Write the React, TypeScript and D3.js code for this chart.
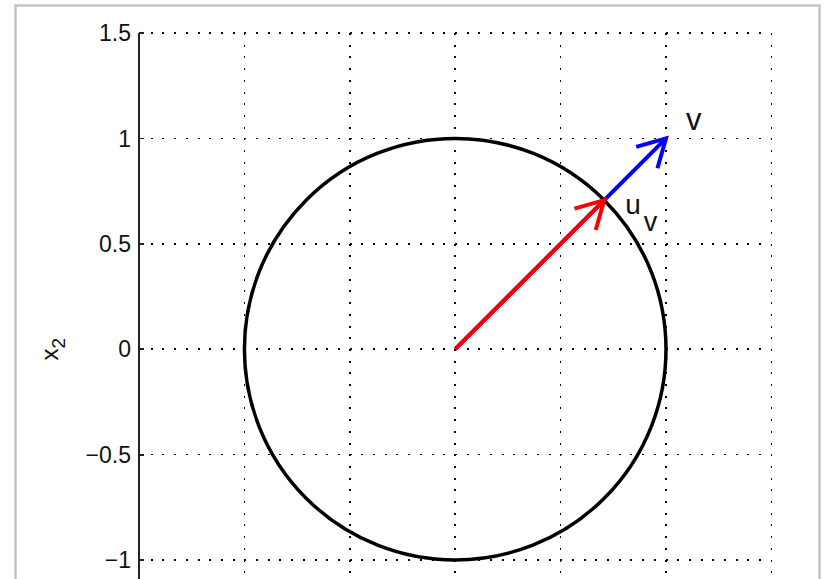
import { useEffect } from "react";
import * as d3 from "d3";

// axis ranges and ticks
const xDomain = [-1.5, 1.5];
const yDomain = [-1.5, 1.5];
const gridTicks = [-1.5, -1, -0.5, 0, 0.5, 1, 1.5];
const yTicks = [-1.5, -1, -0.5, 0, 0.5, 1, 1.5];
const yTickLabels = [-1, -0.5, 0, 0.5, 1, 1.5];

// vectors
const vVector = [1, 1];
const uVector = [0.7071, 0.7071];
const circleRadius = 1;

const W = 825;
const H = 579;
const plot = { left: 139, right: 772, top: 33 };
const unitPx = 210.8;

const fontFamily = "Arial, 'Liberation Sans', Helvetica, sans-serif";

const Arrow = ({
  x,
  y,
  to,
  color,
}: {
  x: d3.ScaleLinear<number, number>;
  y: d3.ScaleLinear<number, number>;
  to: number[];
  color: string;
}) => {
  const x0 = x(0);
  const y0 = y(0);
  const x1 = x(to[0]);
  const y1 = y(to[1]);
  const ang = Math.atan2(y0 - y1, x0 - x1);
  const len = 31;
  const spread = (29 * Math.PI) / 180;
  const w1 = [x1 + len * Math.cos(ang + spread), y1 + len * Math.sin(ang + spread)];
  const w2 = [x1 + len * Math.cos(ang - spread), y1 + len * Math.sin(ang - spread)];
  return (
    <g stroke={color} strokeWidth={4} fill="none" strokeLinecap="butt" strokeLinejoin="miter">
      <line x1={x0} y1={y0} x2={x1} y2={y1} />
      <path d={`M${w1[0]},${w1[1]}L${x1},${y1}L${w2[0]},${w2[1]}`} />
    </g>
  );
};

export default function App() {
  useEffect(() => {
    document.body.style.margin = "0";
  }, []);

  const x = d3
    .scaleLinear()
    .domain(xDomain)
    .range([plot.left, plot.left + unitPx * (xDomain[1] - xDomain[0])]);
  const y = d3
    .scaleLinear()
    .domain(yDomain)
    .range([plot.top + unitPx * (yDomain[1] - yDomain[0]), plot.top]);

  const fmt = d3.format("~g");

  return (
    <svg
      width={W}
      height={H}
      style={{ display: "block", background: "#fff" }}
      fontFamily={fontFamily}
    >
      {/* figure frame */}
      <rect x={15.5} y={5.5} width={804} height={700} fill="#fff" stroke="#c4c4c4" strokeWidth={2.5} />

      {/* dotted grid */}
      <g stroke="#000" strokeWidth={1.5} strokeDasharray="2 9.7" shapeRendering="crispEdges">
        {gridTicks.map((t) => (
          <line key={`gy${t}`} x1={x(xDomain[0])} x2={x(xDomain[1])} y1={y(t)} y2={y(t)} />
        ))}
        {gridTicks.map((t) => (
          <line key={`gx${t}`} x1={x(t)} x2={x(t)} y1={y(yDomain[1])} y2={y(yDomain[0])} />
        ))}
      </g>

      {/* left axis */}
      <g stroke="#222" strokeWidth={1.8} shapeRendering="crispEdges">
        <line x1={x(xDomain[0])} x2={x(xDomain[0])} y1={y(yDomain[1])} y2={y(yDomain[0])} />
        {yTicks.map((t) => (
          <line key={`t${t}`} x1={x(xDomain[0])} x2={x(xDomain[0]) + 5} y1={y(t)} y2={y(t)} />
        ))}
      </g>
      <g fontSize={23} fill="#111" textAnchor="end">
        {yTickLabels.map((t) => (
          <text key={`l${t}`} x={x(xDomain[0]) - 8} y={y(t)} dy="0.36em">
            {fmt(t)}
          </text>
        ))}
      </g>

      {/* y label */}
      <text
        transform={`translate(58,${y(0)}) rotate(-90)`}
        fontSize={24}
        fill="#111"
        textAnchor="middle"
      >
        x<tspan fontSize={19} dy={7}>2</tspan>
      </text>

      {/* unit circle */}
      <circle
        cx={x(0)}
        cy={y(0)}
        r={x(circleRadius) - x(0)}
        fill="none"
        stroke="#000"
        strokeWidth={3.5}
      />

      {/* vectors */}
      <Arrow x={x} y={y} to={vVector} color="#0000ff" />
      <Arrow x={x} y={y} to={uVector} color="#ff0000" />

      {/* labels */}
      <text x={x(vVector[0]) + 20} y={y(vVector[1]) - 8} fontSize={31} fill="#111">
        v
      </text>
      <text x={x(uVector[0]) + 21} y={y(uVector[1]) + 14} fontSize={28} fill="#111">
        u<tspan fontSize={27} dx={3} dy={17}>v</tspan>
      </text>
    </svg>
  );
}
